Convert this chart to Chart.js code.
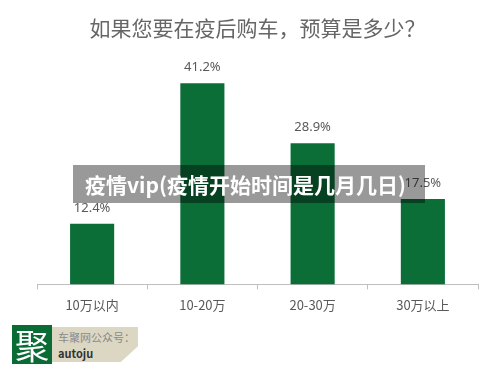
<!DOCTYPE html>
<html>
<head>
<meta charset="utf-8">
<script src="https://cdn.jsdelivr.net/npm/chart.js@4/dist/chart.umd.min.js"></script>
<style>
  html, body { margin: 0; padding: 0; background: #fff; }
  body { width: 500px; height: 370px; position: relative; overflow: hidden;
         font-family: "Noto Sans CJK SC", "Noto Sans", sans-serif; }
  #wrap { position: absolute; left: 0; top: 0; width: 500px; height: 370px; }
  .mark { position: absolute; left: 73px; top: 165px; width: 352px; height: 38px;
          background: rgba(0, 0, 0, 0.4); color: #fff; font-weight: bold;
          font-size: 21px; line-height: 38px; padding-left: 12px; box-sizing: border-box;
          white-space: nowrap; }
  .logo { position: absolute; left: 12px; top: 325px; width: 40px; height: 39px;
          background: #0b6b35; color: #fff; font-size: 34px; line-height: 39px;
          text-align: center; }
  .tag { position: absolute; left: 52px; top: 327px; width: 86px; height: 35px;
         background: #dcd7c3; clip-path: polygon(0 0, 100% 0, 100% 55%, 80% 100%, 0 100%); }
  .tag .t1 { position: absolute; left: 6px; top: 2px; font-size: 11px; color: #8a8a8a; }
  .tag .t2 { position: absolute; left: 6px; top: 18px; font-size: 11px; color: #333; font-weight: bold; }
</style>
</head>
<body>
<div id="wrap"><canvas id="budgetChart" width="500" height="370"></canvas></div>
<div class="mark">疫情vip(疫情开始时间是几月几日)</div>
<div class="logo">聚</div>
<div class="tag"><span class="t1">车聚网公众号：</span><span class="t2">autoju</span></div>
<script>
const categories = ['10万以内', '10-20万', '20-30万', '30万以上'];
const shares = [12.4, 41.2, 28.9, 17.5];
const barColor = '#0b6e37';
const textColor = '#595959';

// 棒の上にパーセント表示
const valueLabels = {
    id: 'valueLabels',
    afterDatasetsDraw(chart) {
        const ctx = chart.ctx;
        const meta = chart.getDatasetMeta(0);
        ctx.save();
        ctx.font = '13px "Noto Sans", sans-serif';
        ctx.fillStyle = textColor;
        ctx.textAlign = 'center';
        ctx.textBaseline = 'bottom';
        meta.data.forEach((bar, i) => {
            ctx.fillText(shares[i].toFixed(1) + '%', bar.x, bar.y - 9);
        });
        ctx.restore();
    }
};

new Chart(document.getElementById('budgetChart').getContext('2d'), {
    type: 'bar',
    data: {
        labels: categories,
        datasets: [{
            data: shares,
            backgroundColor: barColor,
            borderWidth: 0,
            categoryPercentage: 0.4,
            barPercentage: 1,
        }]
    },
    options: {
        responsive: false,
        animation: false,
        layout: { padding: { left: 37, right: 22, top: 0, bottom: 49 } },
        plugins: {
            legend: { display: false },
            tooltip: { enabled: false },
            title: {
                display: true,
                text: '如果您要在疫后购车，预算是多少？',
                color: '#666',
                font: { size: 21, family: '"Noto Sans CJK SC", sans-serif', weight: 'normal' },
                padding: { top: 15, bottom: 0 }
            }
        },
        scales: {
            y: { display: false, min: 0, max: 50 },
            x: {
                grid: { display: true, drawOnChartArea: false, drawTicks: true, tickLength: 5,
                        offset: true, color: '#bfbfbf' },
                border: { color: '#bfbfbf' },
                ticks: { color: textColor, font: { size: 13, family: '"Noto Sans CJK SC", sans-serif' },
                         padding: 8 }
            }
        }
    },
    plugins: [valueLabels]
});
</script>
</body>
</html>
